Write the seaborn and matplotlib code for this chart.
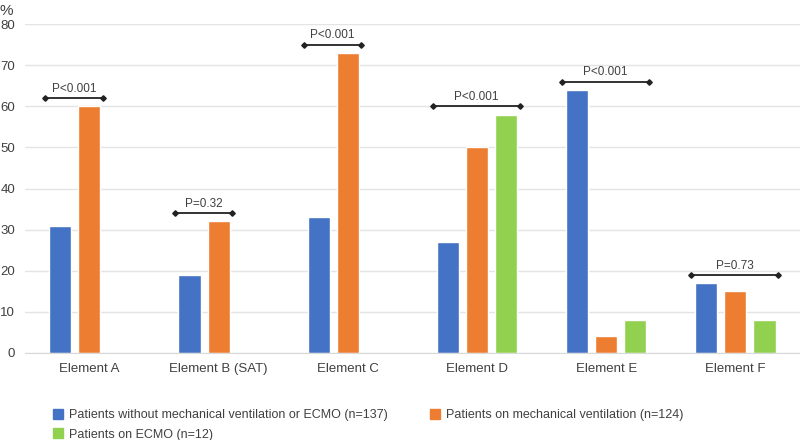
import matplotlib
matplotlib.use("Agg")
import matplotlib.pyplot as plt
import pandas as pd
import seaborn as sns
from matplotlib.lines import Line2D

elements = ["Element A", "Element B (SAT)", "Element C", "Element D", "Element E", "Element F"]
groups = [
    "Patients without mechanical ventilation or ECMO (n=137)",
    "Patients on mechanical ventilation (n=124)",
    "Patients on ECMO (n=12)",
]
no_mv = [31, 19, 33, 27, 64, 17]
on_mv = [60, 32, 73, 50, 4, 15]
on_ecmo = [None, None, None, 58, 8, 8]
p_labels = ["P<0.001", "P=0.32", "P<0.001", "P<0.001", "P<0.001", "P=0.73"]
p_heights = [62, 34, 75, 60, 66, 19]

colors = {groups[0]: "#4472C4", groups[1]: "#ED7D31", groups[2]: "#92D050"}
text_color = "#404040"

rows = []
for series, vals in zip(groups, [no_mv, on_mv, on_ecmo]):
    for el, v in zip(elements, vals):
        if v is not None:
            rows.append({"element": el, "group": series, "value": v})
df = pd.DataFrame(rows)

sns.set_style("white")
plt.rcParams["font.family"] = ["Liberation Sans", "DejaVu Sans"]

fig = plt.figure(figsize=(8, 4.4), dpi=100)
ax = fig.add_axes([0.031, 0.198, 0.969, 0.747])

sns.barplot(data=df, x="element", y="value", hue="group", order=elements,
            hue_order=groups, palette=colors, width=0.675, gap=0.24,
            legend=False, ax=ax, saturation=1)

ax.set_xlim(-0.5, len(elements) - 0.5)
ax.set_ylim(0, 80)
ax.set_yticks(range(0, 81, 10))
ax.yaxis.grid(True, color="#e4e4e4", linewidth=1)
ax.set_axisbelow(True)
for s in ["top", "right", "left"]:
    ax.spines[s].set_visible(False)
ax.spines["bottom"].set_color("#d9d9d9")
ax.tick_params(axis="both", length=0, labelsize=9.5, colors=text_color)
ax.tick_params(axis="y", pad=7)
ax.tick_params(axis="x", pad=7)
ax.set_xlabel("")
ax.set_ylabel("")

# significance brackets spanning each group's bars
for i, (lab, h) in enumerate(zip(p_labels, p_heights)):
    lefts, rights = [], []
    for p in ax.patches:
        cx = p.get_x() + p.get_width() / 2
        if abs(cx - i) < 0.45 and p.get_height() > 0:
            lefts.append(p.get_x())
            rights.append(p.get_x() + p.get_width())
    x0, x1 = min(lefts) - 0.03, max(rights) + 0.02
    ax.plot([x0, x1], [h, h], color="#222222", linewidth=1.3,
            marker="D", markersize=2.8, clip_on=False)
    ax.text((x0 + x1) / 2, h + 0.8, lab, ha="center", va="bottom",
            fontsize=8.5, color=text_color)

fig.text(0.0, 0.99, "%", ha="left", va="top", fontsize=11, color=text_color)

handles = [Line2D([], [], marker="s", linestyle="", markersize=7,
                  color=colors[g]) for g in [groups[0], groups[2], groups[1]]]
fig.legend(handles, [groups[0], groups[2], groups[1]], ncol=2,
           loc="upper left", bbox_to_anchor=(0.065, 0.07),
           frameon=False, fontsize=9.0, labelcolor=text_color,
           handletextpad=0.35, handlelength=1.0, columnspacing=3.3,
           labelspacing=0.6, borderpad=0, borderaxespad=0)

fig.savefig("out.png", dpi=100)
